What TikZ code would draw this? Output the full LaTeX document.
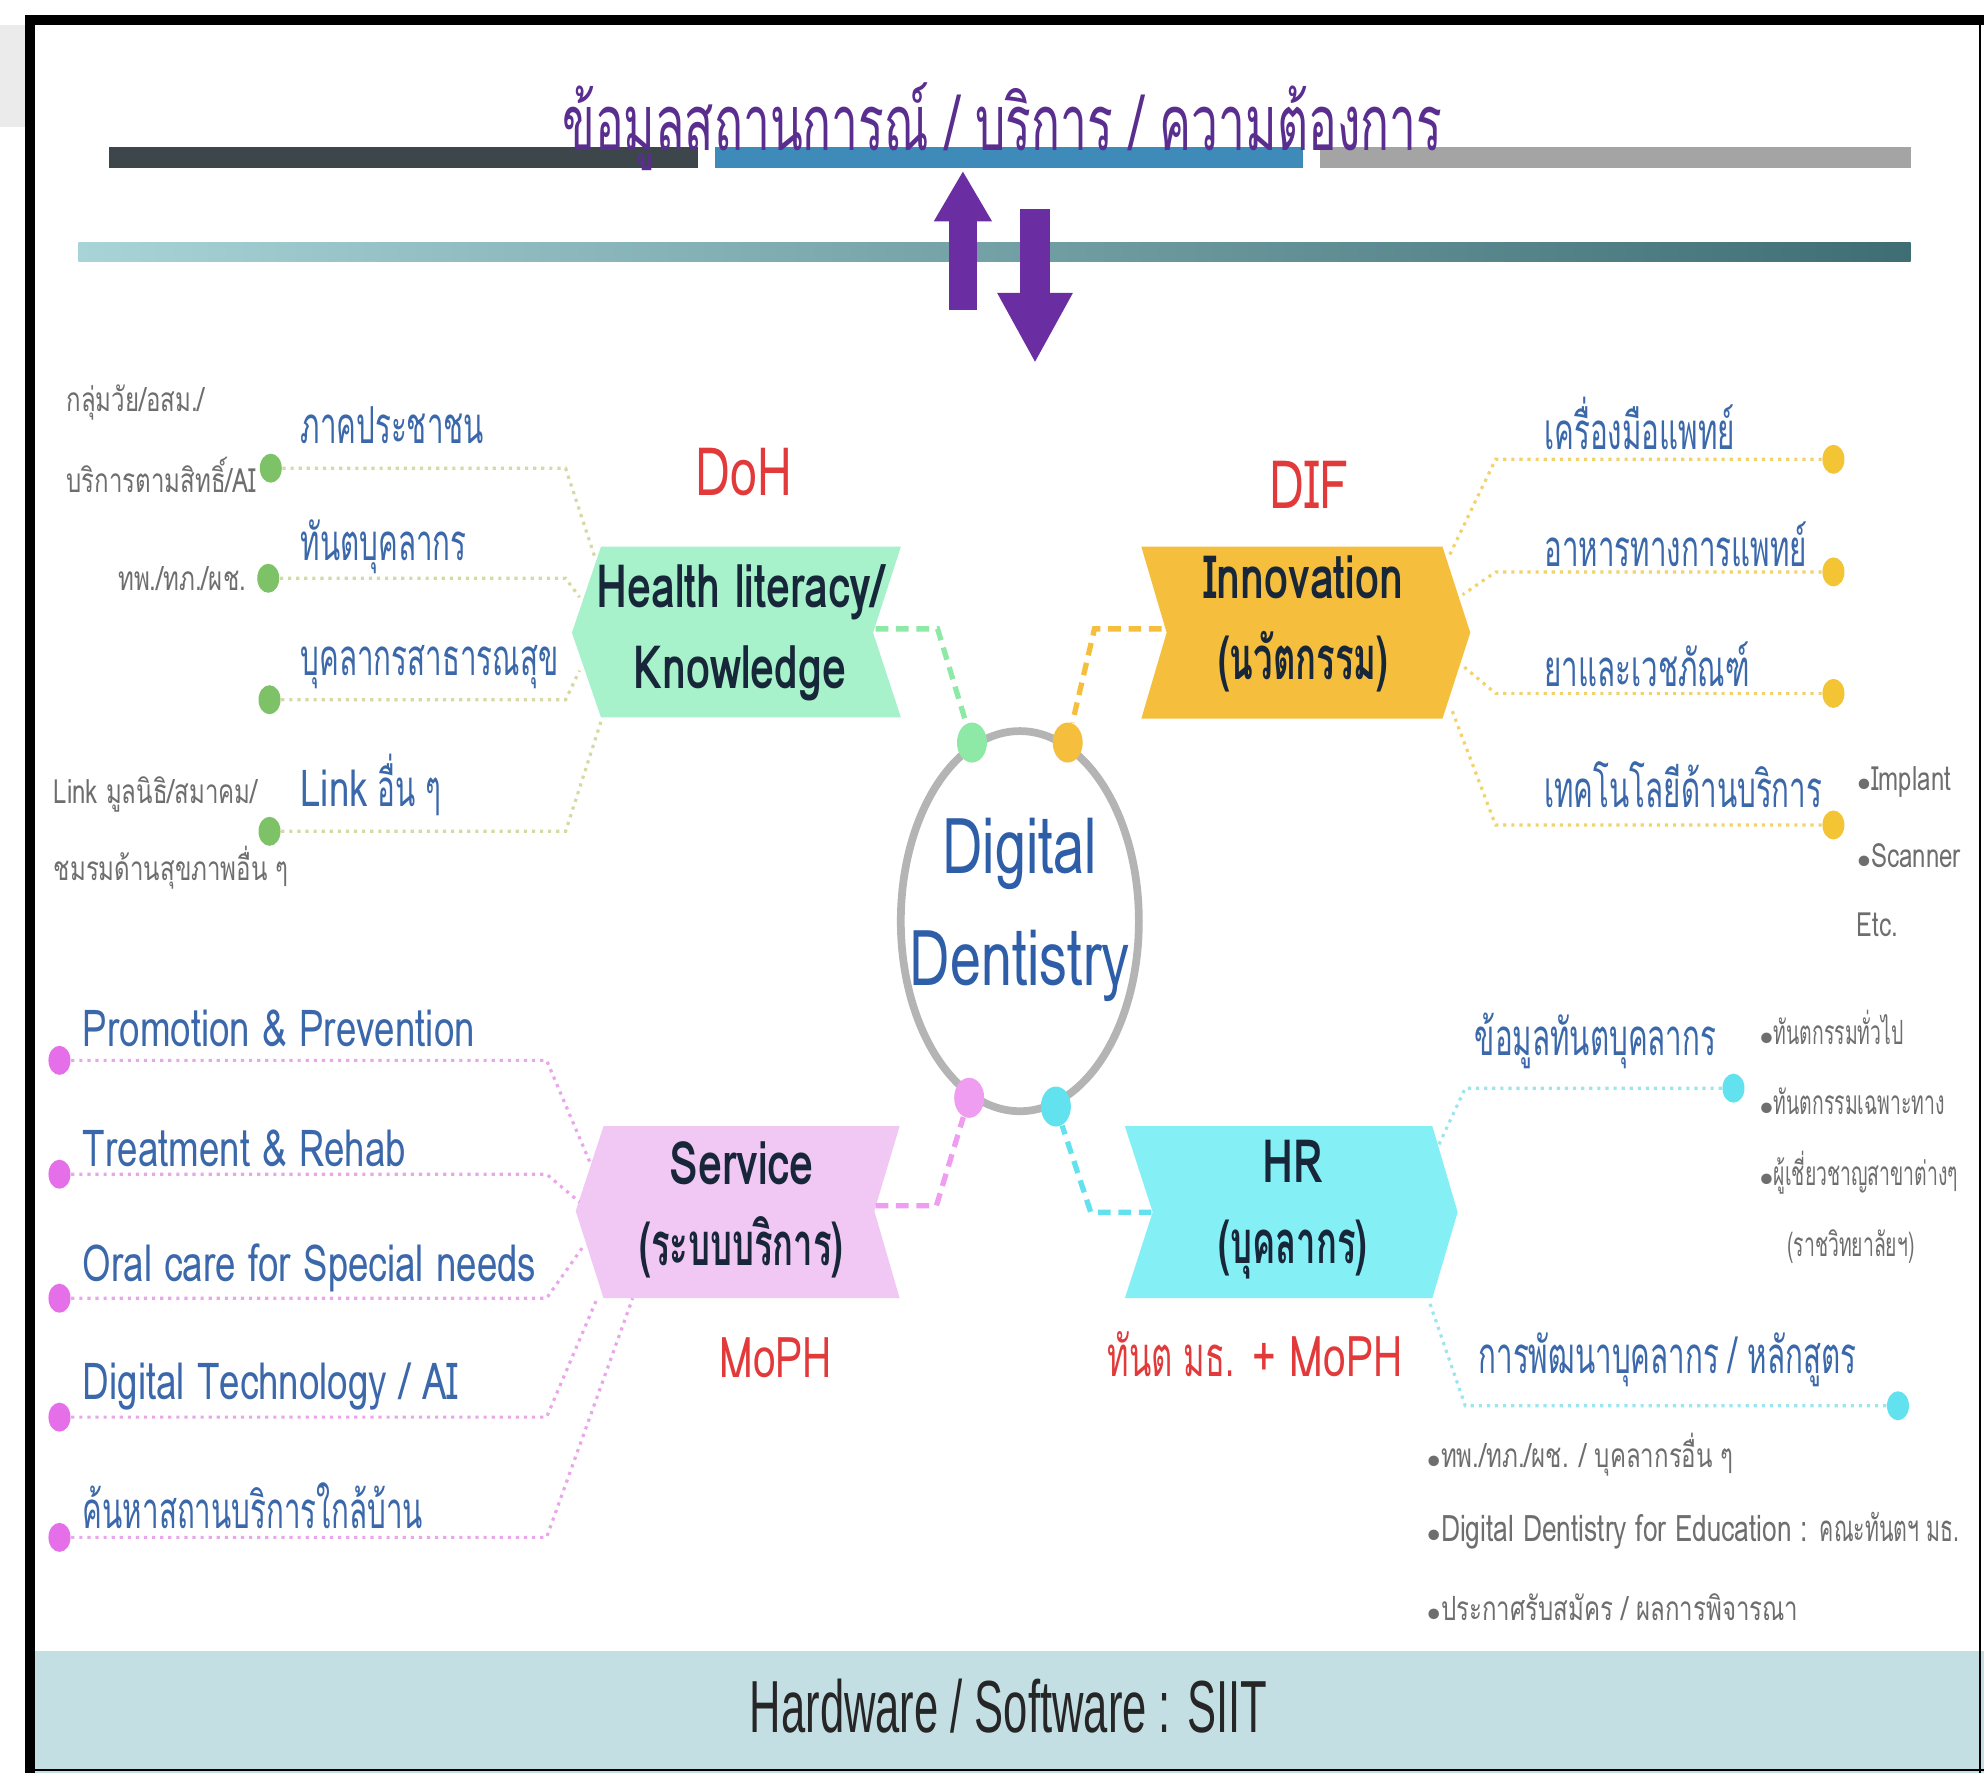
\documentclass[tikz,border=0pt]{standalone}
\usepackage{fontspec}
\setmainfont{Loma}[Script=Thai, FakeStretch=0.72]
\newfontfamily\lat{Loma}[Script=Thai, FakeStretch=0.72]
\newfontfamily\thai{Loma}[Script=Thai, FakeStretch=0.58]
\newfontfamily\thaititle{Loma}[Script=Thai, FakeStretch=0.62]
\newfontfamily\hwfont{Liberation Sans}[FakeStretch=0.59]
\usetikzlibrary{arrows.meta, shapes.geometric}

\definecolor{titleviolet}{HTML}{5A2E8E}
\definecolor{bardark}{HTML}{3D464B}
\definecolor{barblue}{HTML}{3E8BBA}
\definecolor{bargray}{HTML}{A4A4A4}
\definecolor{teallight}{HTML}{A8D3D7}
\definecolor{tealdark}{HTML}{3E6E74}
\definecolor{arrowviolet}{HTML}{6A2DA2}
\definecolor{mint}{HTML}{A7F1CB}
\definecolor{gold}{HTML}{F5BF3D}
\definecolor{lilac}{HTML}{F1C8F4}
\definecolor{aqua}{HTML}{84F0F5}
\definecolor{ringgray}{HTML}{B4B4B4}
\definecolor{leafblue}{HTML}{3A68AA}
\definecolor{notegray}{HTML}{6E6E6E}
\definecolor{orgred}{HTML}{E23A3A}
\definecolor{boxink}{HTML}{172638}
\definecolor{ddblue}{HTML}{2E5EA8}
\definecolor{leafgreen}{HTML}{7DC266}
\definecolor{leafpink}{HTML}{E56EE9}
\definecolor{leafgold}{HTML}{F3C433}
\definecolor{leafcyan}{HTML}{62E2EE}
\definecolor{twiggreen}{HTML}{D6D9A2}
\definecolor{twiggold}{HTML}{F1D36A}
\definecolor{twigpink}{HTML}{E9A6EA}
\definecolor{twigcyan}{HTML}{9BE6EE}
\definecolor{hubmint}{HTML}{8EE8A6}
\definecolor{hubpink}{HTML}{EF9DF0}
\definecolor{bandblue}{HTML}{C4DFE3}

\newcommand{\bul}{{\scriptsize$\bullet$}}

\begin{document}
\begin{tikzpicture}[
    x=0.012653cm, y=-0.012653cm,
    leaf/.style={anchor=west, inner sep=0pt, text=leafblue, font=\thai\fontsize{14.5}{16}\selectfont},
    leafen/.style={leaf, font=\fontsize{14.5}{16}\selectfont},
    note/.style={anchor=west, inner sep=0pt, text=notegray, font=\fontsize{9.5}{11}\selectfont},
    org/.style={inner sep=0pt, text=orgred, font=\fontsize{19}{21}\selectfont},
    chev/.style={inner sep=0pt, align=center, text=boxink, font=\bfseries\fontsize{17}{23}\selectfont},
    dd/.style={inner sep=0pt, text=ddblue, font=\fontsize{22}{24}\selectfont},
    bead/.style={ellipse, inner sep=0pt, minimum width=0.22cm, minimum height=0.29cm, fill=#1},
    hub/.style={ellipse, inner sep=0pt, minimum width=0.3cm, minimum height=0.4cm, fill=#1},
    twig/.style={#1, line width=0.9pt, dash pattern=on 0.9pt off 1.4pt},
    spoke/.style={#1, line width=1.5pt, dash pattern=on 3.6pt off 2.2pt},
    upshaft/.style={arrowviolet, line width=7.9pt, -{Triangle[width=15.5pt, length=14.4pt]}},
    downshaft/.style={arrowviolet, line width=8.6pt, -{Triangle[width=20pt, length=20pt]}}
    ]
    \useasboundingbox (0,0) rectangle (1568,1401);
    \fill[white] (0,0) rectangle (1568,1401);

    % frame and footer band
    \fill[black!8] (0,20) rectangle (20,100);
    \fill[bandblue] (28,1305) rectangle (1568,1401);
    \draw[line width=2.9pt] (24,1401) -- (24,16) -- (1568,16);
    \draw[line width=0.7pt] (1565,16) -- (1565,1401);
    \draw[line width=0.7pt] (24,1399) -- (1568,1399);
    \node[font=\hwfont\fontsize{21}{24}\selectfont, text=black!85] (hw) at (797,1348) {Hardware / Software : SIIT};

    % bars and title
    \fill[bardark] (86,116) rectangle (552,133);
    \fill[barblue] (565,116) rectangle (1030,133);
    \fill[bargray] (1043,116) rectangle (1510,133);
    \shade[left color=teallight, right color=tealdark] (62,192) rectangle (1510,207);
    \node[text=titleviolet, font=\thaititle\fontsize{22}{24}\selectfont] (sit) at (792,100) {ข้อมูลสถานการณ์ / บริการ / ความต้องการ};
    \coordinate (upS) at (761,245);
    \coordinate (upE) at (761,135);
    \coordinate (dnS) at (818,165);
    \coordinate (dnE) at (818,287);
    \draw[upshaft] (upS) -- (upE);
    \draw[downshaft] (dnS) -- (dnE);

    % hub
    \node[draw=ringgray, line width=2.2pt, ellipse, inner sep=0pt, minimum width=2.38cm, minimum height=3.8cm] (dd) at (806,728) {};
    \node[dd] (ddA) at (806,675) {Digital};
    \node[dd] (ddB) at (806,763) {Dentistry};
    \node[hub=hubmint] (hg) at (dd.105) {};
    \node[hub=gold] (hy) at (dd.75) {};
    \node[hub=hubpink] (hp) at (dd.254) {};
    \node[hub=leafcyan] (hc) at (dd.281) {};

    % four boxes
    \fill[mint] (475,432) -- (712,432) -- (690,500) -- (712,567) -- (475,567) -- (452,500) -- cycle;
    \fill[gold] (902,432) -- (1140,432) -- (1162,500) -- (1140,568) -- (902,568) -- (922,500) -- cycle;
    \fill[lilac] (477,890) -- (711,890) -- (691,957) -- (711,1026) -- (477,1026) -- (455,957) -- cycle;
    \fill[aqua] (889,890) -- (1132,890) -- (1152,958) -- (1132,1026) -- (889,1026) -- (911,958) -- cycle;
    \node[chev] (hl) at (585,500) {Health literacy/\\Knowledge};
    \node[chev] (inv) at (1030,493) {Innovation\\{\thai (นวัตกรรม)}};
    \node[chev] (svc) at (586,956) {Service\\{\thai (ระบบบริการ)}};
    \node[chev] (hr) at (1022,956) {HR\\{\thai (บุคลากร)}};
    \node[org] (doh) at (588,373) {DoH};
    \node[org] (dif) at (1035,383) {DIF};
    \node[org, font=\fontsize{16}{18}\selectfont] (moph) at (613,1073) {MoPH};
    \node[org, font=\fontsize{16}{18}\selectfont] (tmoph) at (992,1070) {{\thai ทันต มธ.} + MoPH};

    % box to hub
    \coordinate (hlE) at (692,497);
    \coordinate (hlK) at (741,497);
    \coordinate (invW) at (918,497);
    \coordinate (invK) at (865,497);
    \coordinate (svcE) at (692,953);
    \coordinate (svcK) at (740,953);
    \coordinate (hrW) at (910,958);
    \coordinate (hrK) at (862,958);
    \draw[spoke=hubmint] (hlE) -- (hlK) -- (hg);
    \draw[spoke=gold] (invW) -- (invK) -- (hy);
    \draw[spoke=hubpink] (svcE) -- (svcK) -- (hp);
    \draw[spoke=leafcyan] (hrW) -- (hrK) -- (hc);

    % health literacy leaves
    \coordinate (gx) at (447,0);
    \coordinate (hlA) at (470,440);
    \coordinate (hlB) at (458,472);
    \coordinate (hlC) at (458,530);
    \coordinate (hlD) at (476,567);
    \node[bead=leafgreen] (g1) at (214,370) {};
    \node[bead=leafgreen] (g2) at (212,457) {};
    \node[bead=leafgreen] (g3) at (213,553) {};
    \node[bead=leafgreen] (g4) at (213,657) {};
    \draw[twig=twiggreen] (g1) -- (g1 -| gx) -- (hlA);
    \draw[twig=twiggreen] (g2) -- (g2 -| gx) -- (hlB);
    \draw[twig=twiggreen] (g3) -- (g3 -| gx) -- (hlC);
    \draw[twig=twiggreen] (g4) -- (g4 -| gx) -- (hlD);
    \node[leaf] (g1t) at (237,336) {ภาคประชาชน};
    \node[leaf] (g2t) at (237,432) {ทันตบุคลากร};
    \node[leaf] (g3t) at (237,527) {บุคลากรสาธารณสุข};
    \node[leaf] (g4t) at (237,620) {{\lat Link} อื่น ๆ};
    \node[note] (g1n) at (52,318) {กลุ่มวัย/อสม./};
    \node[note] (g1m) at (52,375) {บริการตามสิทธิ์/AI};
    \node[note, anchor=east] (g2n) at (195,457) {ทพ./ทภ./ผช.};
    \node[note] (g4n) at (42,628) {Link มูลนิธิ/สมาคม/};
    \node[note] (g4m) at (42,686) {ชมรมด้านสุขภาพอื่น ๆ};

    % innovation leaves
    \coordinate (yx) at (1182,0);
    \coordinate (invA) at (1145,440);
    \coordinate (invB) at (1156,470);
    \coordinate (invC) at (1157,527);
    \coordinate (invD) at (1147,560);
    \node[bead=leafgold] (y1) at (1449,363) {};
    \node[bead=leafgold] (y2) at (1449,452) {};
    \node[bead=leafgold] (y3) at (1449,548) {};
    \node[bead=leafgold] (y4) at (1449,652) {};
    \draw[twig=twiggold] (y1) -- (y1 -| yx) -- (invA);
    \draw[twig=twiggold] (y2) -- (y2 -| yx) -- (invB);
    \draw[twig=twiggold] (y3) -- (y3 -| yx) -- (invC);
    \draw[twig=twiggold] (y4) -- (y4 -| yx) -- (invD);
    \node[leaf] (y1t) at (1220,335) {เครื่องมือแพทย์};
    \node[leaf] (y2t) at (1220,430) {อาหารทางการแพทย์};
    \node[leaf] (y3t) at (1220,525) {ยาและเวชภัณฑ์};
    \node[leaf] (y4t) at (1220,620) {เทคโนโลยีด้านบริการ};
    \node[note] (y4n) at (1467,618) {\bul Implant};
    \node[note] (y4m) at (1467,676) {\bul Scanner};
    \node[note] (y4o) at (1467,731) {Etc.};

    % service leaves
    \coordinate (px) at (432,0);
    \coordinate (svcA) at (466,918);
    \coordinate (svcB) at (458,950);
    \coordinate (svcC) at (461,985);
    \coordinate (svcD) at (472,1026);
    \coordinate (svcF) at (500,1026);
    \node[bead=leafpink] (p1) at (47,838) {};
    \node[bead=leafpink] (p2) at (47,928) {};
    \node[bead=leafpink] (p3) at (47,1026) {};
    \node[bead=leafpink] (p4) at (47,1120) {};
    \node[bead=leafpink] (p5) at (47,1215) {};
    \draw[twig=twigpink] (p1) -- (p1 -| px) -- (svcA);
    \draw[twig=twigpink] (p2) -- (p2 -| px) -- (svcB);
    \draw[twig=twigpink] (p3) -- (p3 -| px) -- (svcC);
    \draw[twig=twigpink] (p4) -- (p4 -| px) -- (svcD);
    \draw[twig=twigpink] (p5) -- (p5 -| px) -- (svcF);
    \node[leafen] (p1t) at (65,813) {Promotion \& Prevention};
    \node[leafen] (p2t) at (65,908) {Treatment \& Rehab};
    \node[leafen] (p3t) at (65,1002) {Oral care for Special needs};
    \node[leafen] (p4t) at (65,1096) {Digital Technology / AI};
    \node[leaf] (p5t) at (65,1190) {ค้นหาสถานบริการใกล้บ้าน};

    % HR leaves
    \coordinate (cx) at (1158,0);
    \coordinate (hrA) at (1137,905);
    \coordinate (hrB) at (1130,1030);
    \node[bead=leafcyan] (c1) at (1370,860) {};
    \node[bead=leafcyan] (c2) at (1500,1111) {};
    \draw[twig=twigcyan] (c1) -- (c1 -| cx) -- (hrA);
    \draw[twig=twigcyan] (c2) -- (c2 -| cx) -- (hrB);
    \node[leaf] (c1t) at (1165,823) {ข้อมูลทันตบุคลากร};
    \node[leaf] (c2t) at (1168,1075) {การพัฒนาบุคลากร / หลักสูตร};
    \node[note, font=\thai\fontsize{9.5}{11}\selectfont] (c1a) at (1390,812) {\bul ทันตกรรมทั่วไป};
    \node[note, font=\thai\fontsize{9.5}{11}\selectfont] (c1b) at (1390,870) {\bul ทันตกรรมเฉพาะทาง};
    \node[note, font=\thai\fontsize{9.5}{11}\selectfont] (c1c) at (1390,927) {\bul ผู้เชี่ยวชาญสาขาต่างๆ};
    \node[note, font=\thai\fontsize{9.5}{11}\selectfont] (c1d) at (1412,985) {(ราชวิทยาลัยฯ)};
    \node[note] (c2a) at (1127,1150) {\bul ทพ./ทภ./ผช. / บุคลากรอื่น ๆ};
    \node[note, font=\fontsize{10.4}{12}\selectfont] (c2b) at (1127,1210) {\bul Digital Dentistry for Education : {\thai คณะทันตฯ มธ.}};
    \node[note] (c2c) at (1127,1270) {\bul ประกาศรับสมัคร / ผลการพิจารณา};
\end{tikzpicture}
\end{document}
